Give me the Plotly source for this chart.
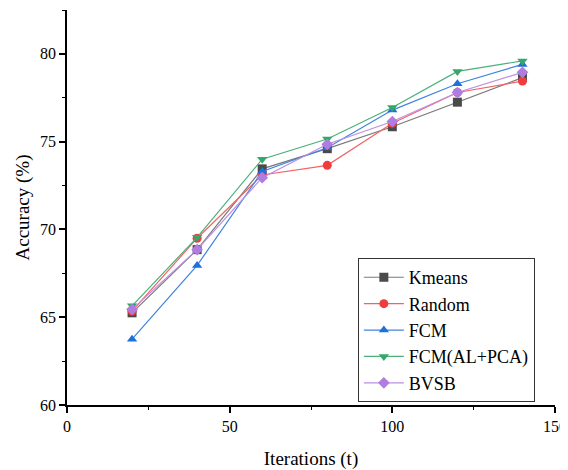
import plotly.graph_objects as go

iterations = [20, 40, 60, 80, 100, 120, 140]
kmeans = [65.25, 68.85, 73.45, 74.6, 75.85, 77.25, 78.65]
random_sel = [65.35, 69.5, 73.1, 73.65, 76.05, 77.8, 78.45]
fcm = [63.75, 67.95, 73.3, 74.65, 76.8, 78.3, 79.4]
fcm_al_pca = [65.65, 69.55, 74.0, 75.15, 76.95, 79.0, 79.6]
bvsb = [65.45, 68.85, 72.95, 74.85, 76.15, 77.8, 78.95]

series = [
    ("Kmeans", kmeans, "#4a4a4a", "#7a7a7a", "square"),
    ("Random", random_sel, "#f03c3c", "#f06464", "circle"),
    ("FCM", fcm, "#1f6fdc", "#3f83e0", "triangle-up"),
    ("FCM(AL+PCA)", fcm_al_pca, "#34a86a", "#4cb07a", "triangle-down"),
    ("BVSB", bvsb, "#b07ce0", "#bc8ee4", "diamond"),
]

fig = go.Figure()
for name, vals, mcol, lcol, sym in series:
    fig.add_trace(go.Scatter(
        x=iterations, y=vals, name=name, mode="lines+markers",
        line=dict(color=lcol, width=1.2),
        marker=dict(symbol=sym, size=9, color=mcol, line=dict(width=0)),
    ))

font = "Liberation Serif"
# the page body has an 8px default margin, so the figure is 8px smaller
fig.update_layout(
    width=560, height=462,
    margin=dict(l=59, r=13, t=2, b=65, autoexpand=False),
    paper_bgcolor="white", plot_bgcolor="white",
    font=dict(family=font, size=16, color="black"),
    legend=dict(
        x=0.596, y=0.372, xanchor="left", yanchor="top",
        bordercolor="#333333", borderwidth=1, bgcolor="white",
        font=dict(family=font, size=18, color="black"),
        tracegroupgap=0, itemwidth=40,
    ),
    xaxis=dict(
        range=[0, 150], tickvals=[0, 50, 100, 150], automargin=False,
        showgrid=False, zeroline=False, showline=True, linecolor="black", linewidth=1.5,
        ticks="outside", ticklen=6, tickwidth=1.5, tickcolor="black",
        minor=dict(tickvals=[25, 75, 125], ticks="outside", ticklen=3, tickwidth=1.2, tickcolor="black"),
        title=dict(text="Iterations (t)", font=dict(family=font, size=19), standoff=18),
        tickfont=dict(family=font, size=16),
    ),
    yaxis=dict(
        range=[60, 82.5], tickvals=[60, 65, 70, 75, 80], automargin=False,
        showgrid=False, zeroline=False, showline=True, linecolor="black", linewidth=1.5,
        ticks="outside", ticklen=6, tickwidth=1.5, tickcolor="black",
        minor=dict(tickvals=[62.5, 67.5, 72.5, 77.5, 82.5], ticks="outside", ticklen=3, tickwidth=1.2, tickcolor="black"),
        title=dict(text="Accuracy (%)", font=dict(family=font, size=19), standoff=5),
        tickfont=dict(family=font, size=16),
    ),
)

fig.write_html("out.html")
